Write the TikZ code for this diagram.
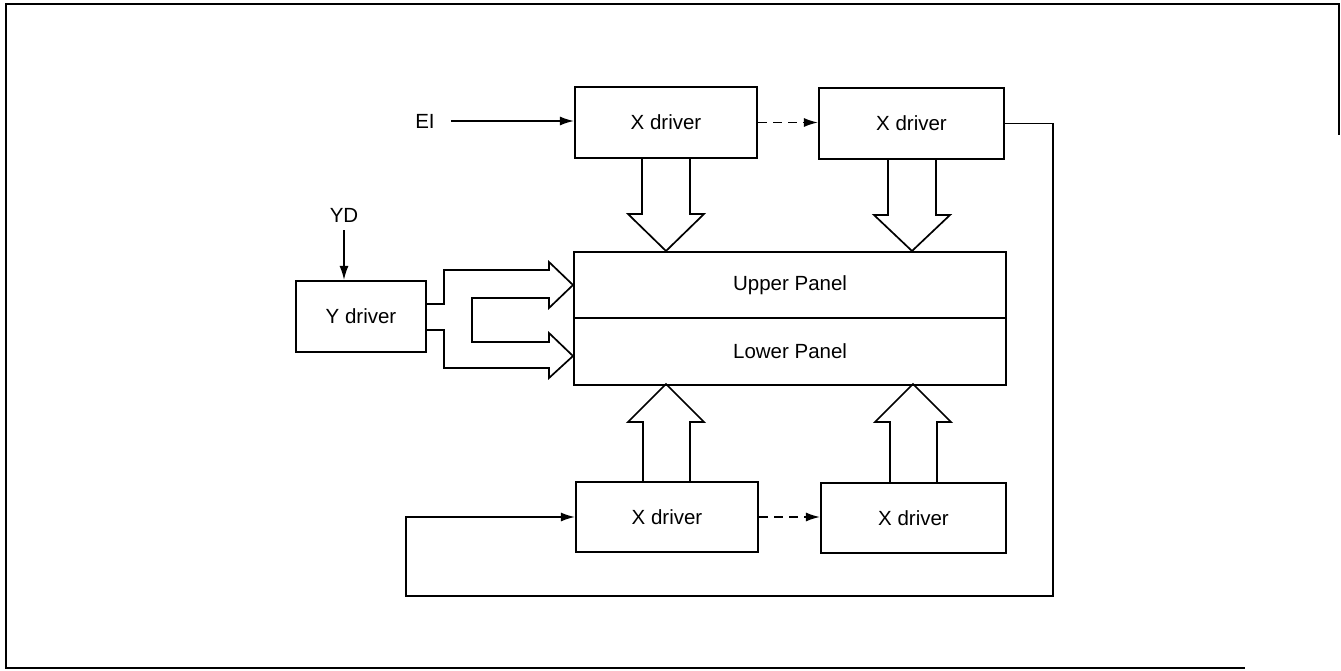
\documentclass[tikz,border=0pt]{standalone}
\usepackage{fontspec}
\setmainfont{Liberation Sans}
\usetikzlibrary{arrows.meta}
\begin{document}
\begin{tikzpicture}[x=1pt,y=-1pt,
  font=\fontsize{20.5}{24}\selectfont,
  box/.style={draw,line width=2.2pt,rectangle,inner sep=0pt},
  conn/.style={line width=1.4pt},
  tip/.style={-{Latex[length=14pt,width=9pt]}},
  dashconn/.style={line width=1.4pt,dash pattern=on 9pt off 6pt},
  hollow/.style={draw,line width=1.7pt,line join=miter},
  lbl/.style={inner sep=0pt}]
\useasboundingbox (0,0) rectangle (1341,671);
% frame
\draw[line width=2.2pt] (1339,135) -- (1339,4) -- (6,4) -- (6,668) -- (1245,668);
% boxes
\node[box,minimum width=182pt,minimum height=71pt] (xtl) at (666,122.5) {X driver};
\node[box,minimum width=185pt,minimum height=71pt] (xtr) at (911.5,123.5) {X driver};
\node[box,minimum width=182pt,minimum height=70pt] (xbl) at (667,517) {X driver};
\node[box,minimum width=185pt,minimum height=70pt] (xbr) at (913.5,518) {X driver};
\node[box,minimum width=130pt,minimum height=71pt] (yd) at (361,316.5) {Y driver};
\node[box,minimum width=432pt,minimum height=66pt,anchor=north west] (up) at (573,251) {Upper Panel};
\node[box,minimum width=432pt,minimum height=67pt,anchor=north west] (lp) at (573,317) {Lower Panel};
% labels
\node[lbl] (ei) at (425,121) {EI};
\node[lbl] (ydl) at (344,215) {YD};
% input arrows
\draw[conn,tip,shorten <=16pt] (ei.east) -- (ei.east -| xtl.west);
\draw[conn,tip,shorten <=8pt] (ydl.south) -- (ydl.south |- yd.north);
% dashed links
\draw[dashconn,tip] (xtl.east) -- (xtl.east -| xtr.west);
\draw[dashconn,tip] (xbl.east) -- (xbl.east -| xbr.west);
% feedback loop
\coordinate (fb1) at (1053,596);
\coordinate (fb2) at (406,596);
\draw[conn,tip] (xtr.east) -| (fb1) -- (fb2) |- (xbl.west);
% hollow bus arrows
\draw[hollow] (642,158) -- (642,214) -- (628,214) -- (666,251) -- (704,214) -- (690,214) -- (690,158);
\draw[hollow] (888,159) -- (888,215) -- (874,215) -- (912,251) -- (950,215) -- (936,215) -- (936,159);
\draw[hollow] (643,482) -- (643,422) -- (628,422) -- (666,384) -- (704,422) -- (690,422) -- (690,482);
\draw[hollow] (890,483) -- (890,422) -- (875,422) -- (913,384) -- (951,422) -- (937,422) -- (937,483);
\draw[hollow] (426,304) -- (444,304) -- (444,270) -- (549,270) -- (549,262) -- (573,285)
  -- (549,308) -- (549,298) -- (472,298) -- (472,342) -- (549,342) -- (549,333) -- (573,356)
  -- (549,378) -- (549,368) -- (444,368) -- (444,330) -- (426,330);
\end{tikzpicture}
\end{document}
